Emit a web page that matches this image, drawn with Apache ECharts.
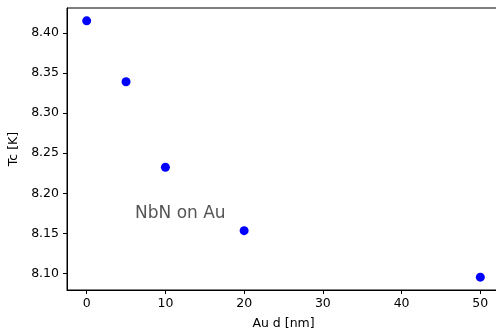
<!DOCTYPE html>
<html>
<head>
<meta charset="utf-8">
<style>
  html, body { margin: 0; padding: 0; background: #fff; }
  #chart { width: 496px; height: 330px; }
</style>
<script src="https://cdn.jsdelivr.net/npm/echarts@6/dist/echarts.min.js"></script>
</head>
<body>
<div id="chart"></div>
<script>
// Au thickness (nm) and measured critical temperature (K)
const auThickness = [0, 5, 10, 20, 50];
const tcValues = [8.415, 8.339, 8.2325, 8.1535, 8.0955];
const xTicks = [0, 10, 20, 30, 40, 50];
const yTicks = [8.10, 8.15, 8.20, 8.25, 8.30, 8.35, 8.40];

const font = 'DejaVu Sans';
const chart = echarts.init(document.getElementById('chart'), null, { renderer: 'canvas' });

// Axis limits padded by 5% of the data span on each side
const xSpan = Math.max(...auThickness) - Math.min(...auThickness);
const ySpan = Math.max(...tcValues) - Math.min(...tcValues);
const xMin = Math.min(...auThickness) - 0.05 * xSpan;
const xMax = Math.max(...auThickness) + 0.05 * xSpan;
const yMin = Math.min(...tcValues) - 0.05 * ySpan;
const yMax = Math.max(...tcValues) + 0.05 * ySpan;

chart.setOption({
  animation: false,
  backgroundColor: '#fff',
  grid: {
    left: 67, top: 8, right: -4, bottom: 40,
    outerBoundsMode: 'none', containLabel: false,
    show: true, borderColor: '#000', borderWidth: 1, backgroundColor: 'transparent'
  },
  xAxis: {
    type: 'value', min: xMin, max: xMax,
    name: 'Au d [nm]', nameLocation: 'middle', nameGap: 27,
    nameTextStyle: { fontFamily: font, fontSize: 12.5, color: '#000' },
    axisLine: { show: true, onZero: false, lineStyle: { color: '#000', width: 1 } },
    axisTick: { show: true, length: 4, customValues: xTicks, lineStyle: { color: '#000' } },
    axisLabel: { customValues: xTicks, margin: 7, fontFamily: font, fontSize: 12.5, color: '#000' },
    splitLine: { show: false }
  },
  yAxis: {
    type: 'value', min: yMin, max: yMax,
    name: 'Tc [K]', nameLocation: 'middle', nameGap: 41, nameRotate: 90,
    nameTextStyle: { fontFamily: font, fontSize: 12.5, color: '#000' },
    axisLine: { show: true, onZero: false, lineStyle: { color: '#000', width: 1 } },
    axisTick: { show: true, length: 4, customValues: yTicks, lineStyle: { color: '#000' } },
    axisLabel: {
      customValues: yTicks, margin: 8, fontFamily: font, fontSize: 12.5, color: '#000',
      formatter: v => v.toFixed(2)
    },
    splitLine: { show: false }
  },
  series: [{
    type: 'scatter',
    data: auThickness.map((x, i) => [x, tcValues[i]]),
    symbol: 'circle',
    symbolSize: 9,
    itemStyle: { color: '#0000ff', opacity: 1 }
  }],
  graphic: [{
    type: 'text',
    left: 135, top: 205,
    style: { text: 'NbN on Au', font: '17px "DejaVu Sans"', fill: '#555555' }
  }]
});
</script>
</body>
</html>
